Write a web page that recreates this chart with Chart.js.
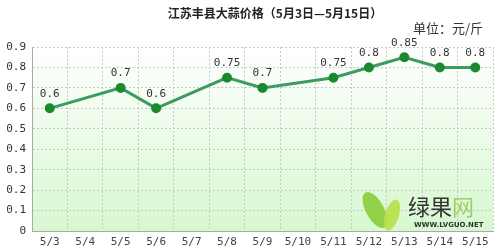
<!DOCTYPE html>
<html>
<head>
<meta charset="utf-8">
<script src="https://cdn.jsdelivr.net/npm/chart.js@4"></script>
<style>
  html, body { margin: 0; padding: 0; background: #fff; }
  #wrap { width: 500px; height: 249px; }
</style>
</head>
<body>
<div id="wrap"><canvas id="chartPreco"></canvas></div>
<script>
const categorias = ['5/3','5/4','5/5','5/6','5/7','5/8','5/9','5/10','5/11','5/12','5/13','5/14','5/15'];
const precos = [0.6, null, 0.7, 0.6, null, 0.75, 0.7, null, 0.75, 0.8, 0.85, 0.8, 0.8];
const tituloTexto = '江苏丰县大蒜价格（5月3日—5月15日）';
const unidadeTexto = '单位：元/斤';

const monoFont = '"DejaVu Sans Mono", "Liberation Mono", monospace';
const cjkFont = '"Noto Sans CJK SC", sans-serif';

// fundo em degradê + textos fixos
const fundoPlugin = {
  id: 'fundo',
  beforeDraw(chart){
    const { ctx, chartArea: a } = chart;
    const g = ctx.createLinearGradient(0, a.top, 0, a.bottom);
    g.addColorStop(0, '#ffffff');
    g.addColorStop(1, '#d6f8cf');
    ctx.save();
    ctx.fillStyle = g;
    ctx.fillRect(a.left, a.top, a.right - a.left, a.bottom - a.top);
    ctx.restore();
  },
  afterDraw(chart){
    const { ctx } = chart;
    ctx.save();
    ctx.fillStyle = '#222';
    ctx.font = 'bold 12px ' + cjkFont;
    ctx.textAlign = 'center';
    ctx.textBaseline = 'middle';
    ctx.fillText(tituloTexto, 275, 13);
    ctx.font = '13px ' + cjkFont;
    ctx.textAlign = 'right';
    ctx.fillStyle = '#333';
    ctx.fillText(unidadeTexto, 483, 28);
    // marca d'água
    ctx.globalAlpha = 0.9;
    ctx.fillStyle = '#8acc3a';
    ctx.beginPath();
    ctx.ellipse(375, 210, 9, 20, -0.5, 0, Math.PI * 2);
    ctx.fill();
    ctx.fillStyle = '#b8e04a';
    ctx.beginPath();
    ctx.ellipse(392, 215, 7, 16, 0.3, 0, Math.PI * 2);
    ctx.fill();
    ctx.globalAlpha = 1;
    ctx.fillStyle = '#333';
    ctx.font = '22px ' + cjkFont;
    ctx.textAlign = 'left';
    ctx.fillText('绿果', 408, 207);
    ctx.fillStyle = '#9ad06a';
    ctx.fillText('网', 452, 207);
    ctx.fillStyle = '#333';
    ctx.font = 'bold 7px "DejaVu Sans", sans-serif';
    ctx.fillText('WWW.LVGUO.NET', 414, 225);
    ctx.restore();
  }
};

// rótulos de valor acima dos pontos
const rotulosPlugin = {
  id: 'rotulos',
  afterDatasetsDraw(chart){
    const { ctx } = chart;
    const meta = chart.getDatasetMeta(0);
    ctx.save();
    ctx.font = '11px ' + monoFont;
    ctx.fillStyle = '#333';
    ctx.textAlign = 'center';
    ctx.textBaseline = 'bottom';
    meta.data.forEach((pt, i) => {
      const v = precos[i];
      if(v === null) return;
      ctx.fillText(String(v), pt.x, pt.y - 9);
    });
    ctx.restore();
  }
};

new Chart(document.getElementById('chartPreco'), {
  type: 'line',
  data: {
    labels: categorias,
    datasets: [{
      data: precos,
      spanGaps: true,
      borderColor: '#3c9b5e',
      borderWidth: 3,
      pointBackgroundColor: '#1b8a2c',
      pointBorderColor: '#1b8a2c',
      pointRadius: 3.5,
      tension: 0,
      clip: false
    }]
  },
  options: {
    responsive: true,
    maintainAspectRatio: false,
    animation: false,
    layout: { padding: { top: 47, right: 5, left: 0, bottom: 0 } },
    plugins: { legend: { display: false }, tooltip: { enabled: false } },
    scales: {
      x: {
        offset: true,
        grid: { offset: true, color: '#c8c8c8', drawTicks: false },
        border: { color: '#aaa', dash: [2, 2] },
        ticks: { font: { family: monoFont, size: 11 }, color: '#444', padding: 5, maxRotation: 0, autoSkip: false },
        afterFit(s){ s.height = 18; }
      },
      y: {
        min: 0, max: 0.9,
        ticks: {
          stepSize: 0.1,
          font: { family: monoFont, size: 11 },
          color: '#333',
          padding: 6,
          callback: v => v === 0 ? '0' : v.toFixed(1)
        },
        grid: { color: '#c8c8c8', drawTicks: false },
        border: { color: '#aaa', dash: [2, 2] },
        afterFit(s){ s.width = 32; }
      }
    }
  },
  plugins: [fundoPlugin, rotulosPlugin]
});
</script>
</body>
</html>
